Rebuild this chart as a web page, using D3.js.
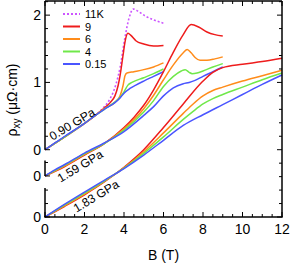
<!DOCTYPE html>
<html><head><meta charset="utf-8">
<script src="https://cdn.jsdelivr.net/npm/d3@7"></script>
<style>body{margin:0;background:#fff}svg{display:block}text{font-family:"Liberation Sans",Arial,sans-serif}</style>
</head><body>
<svg id="c" width="290" height="266"></svg>
<script>
// ---- data ----
const temps = ["11K", "9", "6", "4", "0.15"];
const colors = ["#cc55ff", "#ee1c1c", "#ff8c1a", "#70e84a", "#4a55ff"];
const pressures = ["0.90 GPa", "1.59 GPa", "1.83 GPa"];
const offsets = [0, -0.39, -1.0];
const xTicks = [0, 2, 4, 6, 8, 10, 12];

// 0.90 GPa  [B (T), rho_xy]
const p090_11K = [[0,0],[1,0.19],[2,0.39],[2.5,0.5],[3,0.64],[3.3,0.76],[3.6,0.98],[3.8,1.22],[4.05,1.67],[4.25,1.95],[4.47,2.09],[4.7,2.06],[5.06,1.99],[5.5,1.93],[6,1.88]];
const p090_9   = [[0,0],[1,0.19],[2,0.39],[2.5,0.5],[3,0.62],[3.3,0.7],[3.54,0.8],[3.7,0.95],[3.8,1.1],[3.95,1.4],[4.05,1.6],[4.2,1.73],[4.35,1.7],[4.6,1.62],[5,1.57],[5.5,1.54],[6,1.55]];
const p090_6   = [[0,0],[1,0.19],[2,0.39],[2.5,0.5],[3,0.61],[3.6,0.72],[3.8,0.8],[3.95,0.95],[4.05,1.1],[4.15,1.14],[4.5,1.16],[5,1.19],[5.5,1.23],[6,1.29]];
const p090_4   = [[0,0],[1,0.19],[2,0.39],[2.5,0.5],[3,0.6],[3.5,0.7],[3.8,0.78],[4.0,0.86],[4.2,0.96],[4.4,1.0],[5,1.07],[5.5,1.13],[6,1.2]];
const p090_015 = [[0,0],[0.5,0.1],[1,0.2],[2,0.39],[2.5,0.5],[3,0.6],[3.54,0.7],[3.8,0.77],[4.0,0.84],[4.3,0.91],[4.6,0.96],[5,1.02],[5.5,1.09],[6,1.16]];

// 1.59 GPa
const p159_9   = [[0,0],[1,0.14],[2,0.31],[3,0.48],[4,0.72],[4.5,0.87],[5,1.05],[5.5,1.28],[6,1.55],[6.5,1.84],[7,2.1],[7.4,2.25],[7.8,2.21],[8.2,2.14],[8.6,2.1],[9,2.08]];
const p159_6   = [[0,0],[1,0.15],[2,0.32],[3,0.48],[4,0.7],[5,1.0],[5.5,1.2],[6,1.43],[6.5,1.65],[7,1.83],[7.2,1.88],[7.4,1.83],[7.6,1.76],[7.85,1.72],[8.2,1.72],[8.6,1.74],[9,1.77]];
const p159_4   = [[0,0],[1,0.16],[2,0.33],[3,0.48],[4,0.68],[5,0.95],[5.5,1.12],[6,1.33],[6.5,1.48],[6.9,1.56],[7.1,1.58],[7.3,1.54],[7.45,1.52],[7.7,1.53],[8,1.56],[8.5,1.62],[9,1.67]];
const p159_015 = [[0,0],[0.5,0.09],[1,0.17],[2,0.34],[3,0.49],[4,0.66],[5,0.9],[5.5,1.03],[6,1.19],[6.5,1.31],[7,1.37],[7.3,1.39],[7.6,1.42],[8,1.48],[8.5,1.55],[9,1.62]];

// 1.83 GPa
const p183_9   = [[0,0],[1,0.16],[2,0.33],[3,0.52],[4,0.74],[5,1.0],[6,1.33],[7,1.68],[8,2.02],[8.5,2.15],[9,2.22],[10,2.27],[11,2.31],[12,2.36]];
const p183_6   = [[0,0],[1,0.17],[2,0.34],[3,0.53],[4,0.73],[5,0.97],[6,1.25],[7,1.54],[7.5,1.68],[8,1.8],[8.5,1.88],[9,1.93],[10,2.02],[11,2.1],[12,2.18]];
const p183_4   = [[0,0],[1,0.18],[2,0.355],[3,0.535],[4,0.725],[5,0.945],[6,1.19],[7,1.45],[7.5,1.57],[8,1.68],[8.5,1.76],[9,1.82],[10,1.93],[11,2.04],[12,2.14]];
const p183_015 = [[0,0],[1,0.19],[2,0.37],[3,0.545],[4,0.72],[5,0.92],[6,1.14],[7,1.36],[8,1.52],[9,1.67],[10,1.82],[11,1.97],[12,2.11]];

const groups = [
  {p:0, series:[[0,p090_11K],[1,p090_9],[2,p090_6],[3,p090_4],[4,p090_015]]},
  {p:1, series:[[1,p159_9],[2,p159_6],[3,p159_4],[4,p159_015]]},
  {p:2, series:[[1,p183_9],[2,p183_6],[3,p183_4],[4,p183_015]]}
];

// ---- chart ----
const svg = d3.select("#c");
const L = 45, R = 282, T = 1, B = 217;
const x = d3.scaleLinear().domain([0, 12]).range([L, R]);
const y = d3.scaleLinear().domain([-1.0, 2.21]).range([B, T]);

const line = d3.line().x(d => x(d[0])).curve(d3.curveMonotoneX);

// curves
groups.forEach(g => {
  const off = offsets[g.p];
  g.series.forEach(([ti, data]) => {
    svg.append("path")
      .attr("d", line.y(d => y(d[1] + off))(data))
      .attr("fill", "none")
      .attr("stroke", colors[ti])
      .attr("stroke-width", ti === 0 ? 1.6 : 1.5)
      .attr("stroke-dasharray", ti === 0 ? "2,2" : null);
  });
});

// frame: top, right, bottom
const ax = svg.append("g").attr("stroke", "#000").attr("fill", "none");
ax.append("line").attr("x1", L).attr("x2", R).attr("y1", T).attr("y2", T).attr("stroke-width", 1.5);
ax.append("line").attr("x1", R).attr("x2", R).attr("y1", T).attr("y2", B).attr("stroke-width", 1.5);
ax.append("line").attr("x1", L - 0.75).attr("x2", R + 0.75).attr("y1", B).attr("y2", B).attr("stroke-width", 1.5);

// x ticks (bottom + top)
const xMinor = d3.range(0, 12.01, 0.5);
xMinor.forEach(v => {
  const major = Math.abs(v % 2) < 1e-6;
  const len = major ? 5 : 3;
  ax.append("line").attr("x1", x(v)).attr("x2", x(v)).attr("y1", B).attr("y2", B - len).attr("stroke-width", 1);
  ax.append("line").attr("x1", x(v)).attr("x2", x(v)).attr("y1", T).attr("y2", T + len).attr("stroke-width", 1);
});
svg.selectAll(".xl").data(xTicks).enter().append("text")
  .attr("x", d => x(d)).attr("y", B + 17).attr("text-anchor", "middle")
  .attr("font-size", 14).text(d => d);

// right ticks
d3.range(-1.0, 2.21, 0.2).forEach(v => {
  const major = Math.abs(Math.round(v) - v) < 1e-6;
  ax.append("line").attr("x1", R).attr("x2", R - (major ? 5 : 3)).attr("y1", y(v)).attr("y2", y(v)).attr("stroke-width", 1);
});

// left broken axis segments
const segs = [[0, 2.21, 0], [-0.39, -0.16, -0.39], [-1.0, -0.57, -1.0]];
segs.forEach(([lo, hi, base]) => {
  ax.append("line").attr("x1", L).attr("x2", L).attr("y1", y(lo)).attr("y2", y(hi)).attr("stroke-width", 1.5);
  for (let k = 0; base + k * 0.2 <= hi + 1e-6; k++) {
    const v = base + k * 0.2;
    const major = k % 5 === 0;
    ax.append("line").attr("x1", L).attr("x2", L + (major ? 5 : 3)).attr("y1", y(v)).attr("y2", y(v)).attr("stroke-width", 1);
  }
  svg.append("text").attr("x", L - 4).attr("y", y(base) + 5).attr("text-anchor", "end").attr("font-size", 14).text("0");
});
[1, 2].forEach(v => svg.append("text").attr("x", L - 4).attr("y", y(v) + 5).attr("text-anchor", "end").attr("font-size", 14).text(v));

// axis titles
svg.append("text").attr("x", (L + R) / 2).attr("y", 260).attr("text-anchor", "middle").attr("font-size", 14).text("B (T)");
const yt = svg.append("text").attr("transform", "translate(17,100) rotate(-90)").attr("text-anchor", "middle").attr("font-size", 14);
yt.append("tspan").text("ρ");
yt.append("tspan").attr("font-size", 10).attr("dy", 3).text("xy");
yt.append("tspan").attr("dy", -3).text(" (μΩ·cm)");

// pressure labels (centres)
const plab = [[72, 124], [80, 166], [96, 196]];
pressures.forEach((t, i) => {
  svg.append("text").attr("transform", `translate(${plab[i][0]},${plab[i][1]}) rotate(-31)`)
    .attr("text-anchor", "middle").attr("dy", "0.35em")
    .attr("font-size", 12).text(t);
});

// legend
temps.forEach((t, i) => {
  const yy = 14 + i * 12.5;
  svg.append("line").attr("x1", 63).attr("x2", 80).attr("y1", yy).attr("y2", yy)
    .attr("stroke", colors[i]).attr("stroke-width", 2).attr("stroke-dasharray", i === 0 ? "2,2" : null);
  svg.append("text").attr("x", 85).attr("y", yy + 4).attr("font-size", 11).text(t);
});
</script>
</body></html>
